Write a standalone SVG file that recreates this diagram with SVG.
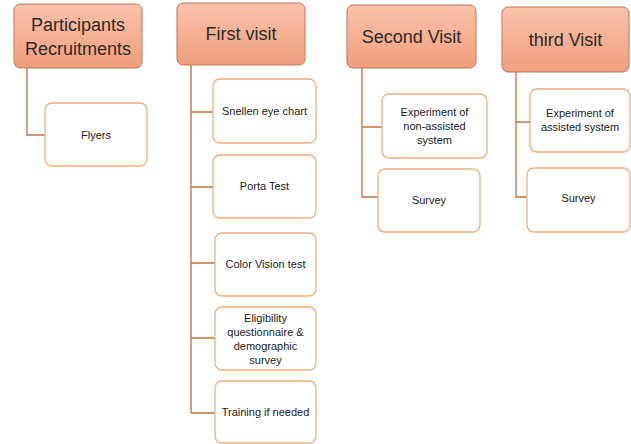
<svg xmlns="http://www.w3.org/2000/svg" width="631" height="444" viewBox="0 0 631 444">
<defs>
<linearGradient id="pg" x1="0" y1="0" x2="0" y2="1">
<stop offset="0" stop-color="#f9c3aa"/>
<stop offset="1" stop-color="#f19e7c"/>
</linearGradient>
</defs>
<style>
.p{fill:url(#pg);stroke:#b9765c;stroke-width:1}
.c{fill:#ffffff;stroke:#f0b07a;stroke-width:1.3}
.pt{font-family:"Liberation Sans",Arial,sans-serif;font-size:18px;fill:#2a2a2a;text-anchor:middle}
.ct{font-family:"Liberation Sans",Arial,sans-serif;font-size:11px;fill:#1a1a1a;text-anchor:middle}
.ln{fill:none;stroke:#c0713c;stroke-width:1.3}
</style>
<rect width="631" height="444" fill="#ffffff"/>
<g id="connectors">
<path class="ln" d="M27 68 V135 H45"/>
<path class="ln" d="M191 65 V413 M191 112 H213 M191 187 H213 M191 263 H215 M191 338 H215 M191 413 H215"/>
<path class="ln" d="M362 68 V197 H378 M362 127 H382"/>
<path class="ln" d="M516 72 V197 H527 M516 122 H530"/>
</g>
<g id="participants">
<rect class="p" x="14" y="4" width="128" height="64" rx="6"/>
<text class="pt" x="78" y="31">Participants</text>
<text class="pt" x="78" y="55">Recruitments</text>
</g>
<g id="flyers">
<rect class="c" x="45" y="103" width="102" height="63" rx="7"/>
<text class="ct" x="96" y="139">Flyers</text>
</g>
<g id="first-visit">
<rect class="p" x="177" y="3" width="128" height="62" rx="6"/>
<text class="pt" x="241" y="40">First visit</text>
</g>
<g id="snellen">
<rect class="c" x="213" y="79" width="103" height="64" rx="7"/>
<text class="ct" x="264.5" y="115">Snellen eye chart</text>
</g>
<g id="porta">
<rect class="c" x="213" y="155" width="103" height="63" rx="7"/>
<text class="ct" x="264.5" y="190">Porta Test</text>
</g>
<g id="color-vision">
<rect class="c" x="215" y="233" width="101" height="63" rx="7"/>
<text class="ct" x="265.5" y="268">Color Vision test</text>
</g>
<g id="eligibility">
<rect class="c" x="215" y="307" width="101" height="63" rx="7"/>
<text class="ct" x="265.5" y="322">Eligibility</text>
<text class="ct" x="265.5" y="336">questionnaire &amp;</text>
<text class="ct" x="265.5" y="350">demographic</text>
<text class="ct" x="265.5" y="364">survey</text>
</g>
<g id="training">
<rect class="c" x="215" y="381" width="101" height="62" rx="7"/>
<text class="ct" x="265.5" y="416">Training if needed</text>
</g>
<g id="second-visit">
<rect class="p" x="347" y="5" width="129" height="63" rx="6"/>
<text class="pt" x="411.5" y="43">Second Visit</text>
</g>
<g id="exp-non-assisted">
<rect class="c" x="382" y="94" width="105" height="64" rx="7"/>
<text class="ct" x="434.5" y="116">Experiment of</text>
<text class="ct" x="434.5" y="130">non-assisted</text>
<text class="ct" x="434.5" y="144">system</text>
</g>
<g id="survey-2">
<rect class="c" x="378" y="169" width="102" height="63" rx="7"/>
<text class="ct" x="429" y="204">Survey</text>
</g>
<g id="third-visit">
<rect class="p" x="502" y="7" width="127" height="65" rx="6"/>
<text class="pt" x="565.5" y="46">third Visit</text>
</g>
<g id="exp-assisted">
<rect class="c" x="530" y="89" width="100" height="63" rx="7"/>
<text class="ct" x="580" y="117">Experiment of</text>
<text class="ct" x="580" y="131">assisted system</text>
</g>
<g id="survey-3">
<rect class="c" x="527" y="168" width="103" height="64" rx="7"/>
<text class="ct" x="578.5" y="202">Survey</text>
</g>
</svg>
